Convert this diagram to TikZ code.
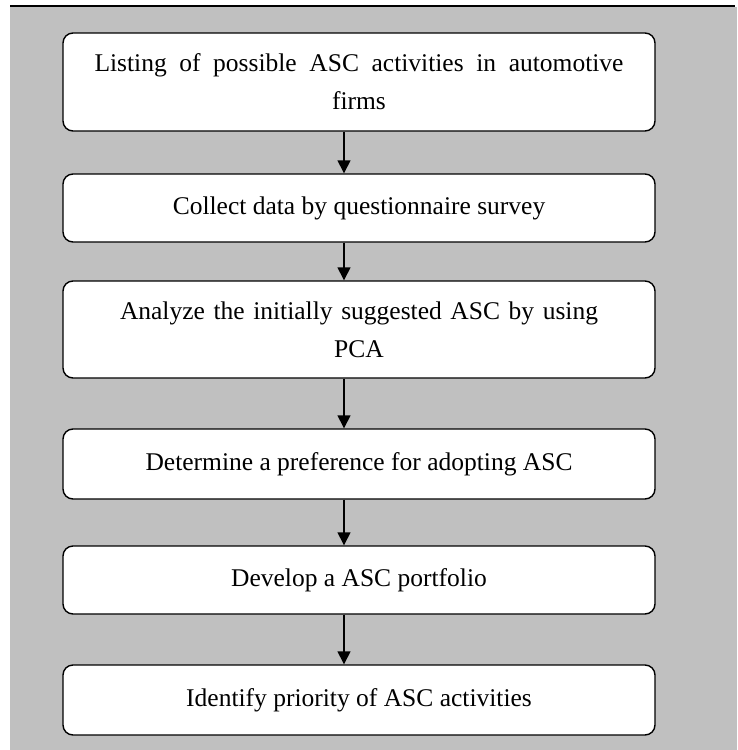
\documentclass[tikz,border=0pt]{standalone}
\usepackage{fontspec}
\setmainfont{Liberation Serif}
\usepackage{xcolor}
\usetikzlibrary{arrows.meta}

\definecolor{panelgray}{HTML}{C0C0C0}

\tikzset{
  stepbox/.style={draw, fill=white, rounded corners=10pt, line width=1.4pt,
    minimum width=592pt, align=center, inner sep=0pt,
    font=\fontsize{25.5}{38}\selectfont},
  flowarrow/.style={-{Triangle[length=13pt,width=13pt]}, line width=1.4pt}
}

\begin{document}
\begin{tikzpicture}[x=1pt,y=1pt]
\useasboundingbox (0,0) rectangle (737,-750);
\fill[panelgray] (10,-7) rectangle (737,-750);
\draw[line width=1.8pt] (10,-6) -- (735,-6);

\node[stepbox, minimum height=98pt] (list) at (359,-82) {\makebox[529pt][s]{Listing of possible ASC activities in automotive}\\firms};
\node[stepbox, minimum height=68pt] (collect) at (359,-208) {Collect data by questionnaire survey};
\node[stepbox, minimum height=97pt] (analyze) at (359,-329.5) {\makebox[478pt][s]{Analyze the initially suggested ASC by using}\\PCA};
\node[stepbox, minimum height=70pt] (prefer) at (359,-464) {Determine a preference for adopting ASC};
\node[stepbox, minimum height=68pt] (portfolio) at (359,-580) {Develop a ASC portfolio};
\node[stepbox, minimum height=70pt] (priority) at (359,-700) {Identify priority of ASC activities};

\draw[flowarrow] ([xshift=-15pt]list.south) -- ([xshift=-15pt]collect.north);
\draw[flowarrow] ([xshift=-15pt]collect.south) -- ([xshift=-15pt]analyze.north);
\draw[flowarrow] ([xshift=-15pt]analyze.south) -- ([xshift=-15pt]prefer.north);
\draw[flowarrow] ([xshift=-15pt]prefer.south) -- ([xshift=-15pt]portfolio.north);
\draw[flowarrow] ([xshift=-15pt]portfolio.south) -- ([xshift=-15pt]priority.north);
\end{tikzpicture}
\end{document}
